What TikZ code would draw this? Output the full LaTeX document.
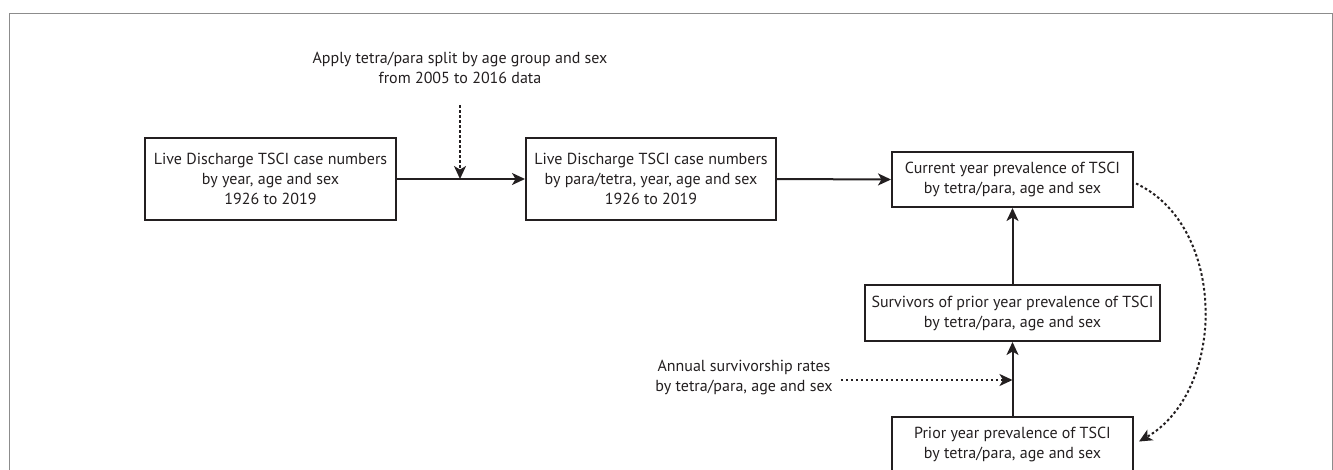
\documentclass[tikz,border=0pt]{standalone}
\usepackage{fontspec}
\setmainfont{PT Sans}
\usetikzlibrary{arrows.meta}
\definecolor{ink}{HTML}{231F20}
\begin{document}
\begin{tikzpicture}[x=1pt,y=-1pt,
  txt/.style={font=\fontsize{16}{20}\selectfont, text=ink},
  box/.style={txt, draw=ink, line width=2pt, align=center, inner sep=0pt},
  lbl/.style={txt, align=center, inner sep=0pt},
  arr/.style={draw=ink, line width=2pt, -{Stealth[length=13pt,width=12pt,inset=3.5pt]}},
  dotarr/.style={arr, dash pattern=on 2.6pt off 2.4pt}]
\useasboundingbox (0,0) rectangle (1333,469);
\draw[black!45, line width=1pt] (9.5,480) -- (9.5,13.5) -- (1332.2,13.5) -- (1332.2,480);

\node[box, minimum width=251pt, minimum height=82pt] (b1) at (270.5,179)
  {Live Discharge TSCI case numbers\\by year, age and sex\\1926 to 2019};
\node[box, minimum width=250pt, minimum height=82pt] (b2) at (651,179)
  {Live Discharge TSCI case numbers\\by para/tetra, year, age and sex\\1926 to 2019};
\node[box, minimum width=241pt, minimum height=55pt] (b3) at (1012.5,179.5)
  {Current year prevalence of TSCI\\by tetra/para, age and sex};
\node[box, minimum width=295pt, minimum height=56pt] (b4) at (1012.5,313)
  {Survivors of prior year prevalence of TSCI\\by tetra/para, age and sex};
\node[box, minimum width=241pt, minimum height=55pt] (b5) at (1012.5,444.5)
  {Prior year prevalence of TSCI\\by tetra/para, age and sex};

\node[lbl] (split) at (460,67.5)
  {Apply tetra/para split by age group and sex\\from 2005 to 2016 data};
\node[lbl] (surv) at (744,378)
  {Annual survivorship rates\\by tetra/para, age and sex};

\coordinate (sj) at (460,179);
\coordinate (vj) at (1012.5,380);

\draw[arr] (b1.east) -- (b2.west);
\draw[arr] (b2.east) -- (b3.west);
\draw[dotarr] (460,105) -- (sj);
\draw[arr] (b4.north) -- (b3.south);
\draw[arr] (b5.north) -- (b4.south);
\draw[dotarr] (surv.east) ++(8,2) -- (vj);
\draw[dotarr] ([shift={(2,4)}]b3.east) to[out=-25,in=30] ([shift={(5,-3)}]b5.east);
\end{tikzpicture}
\end{document}
